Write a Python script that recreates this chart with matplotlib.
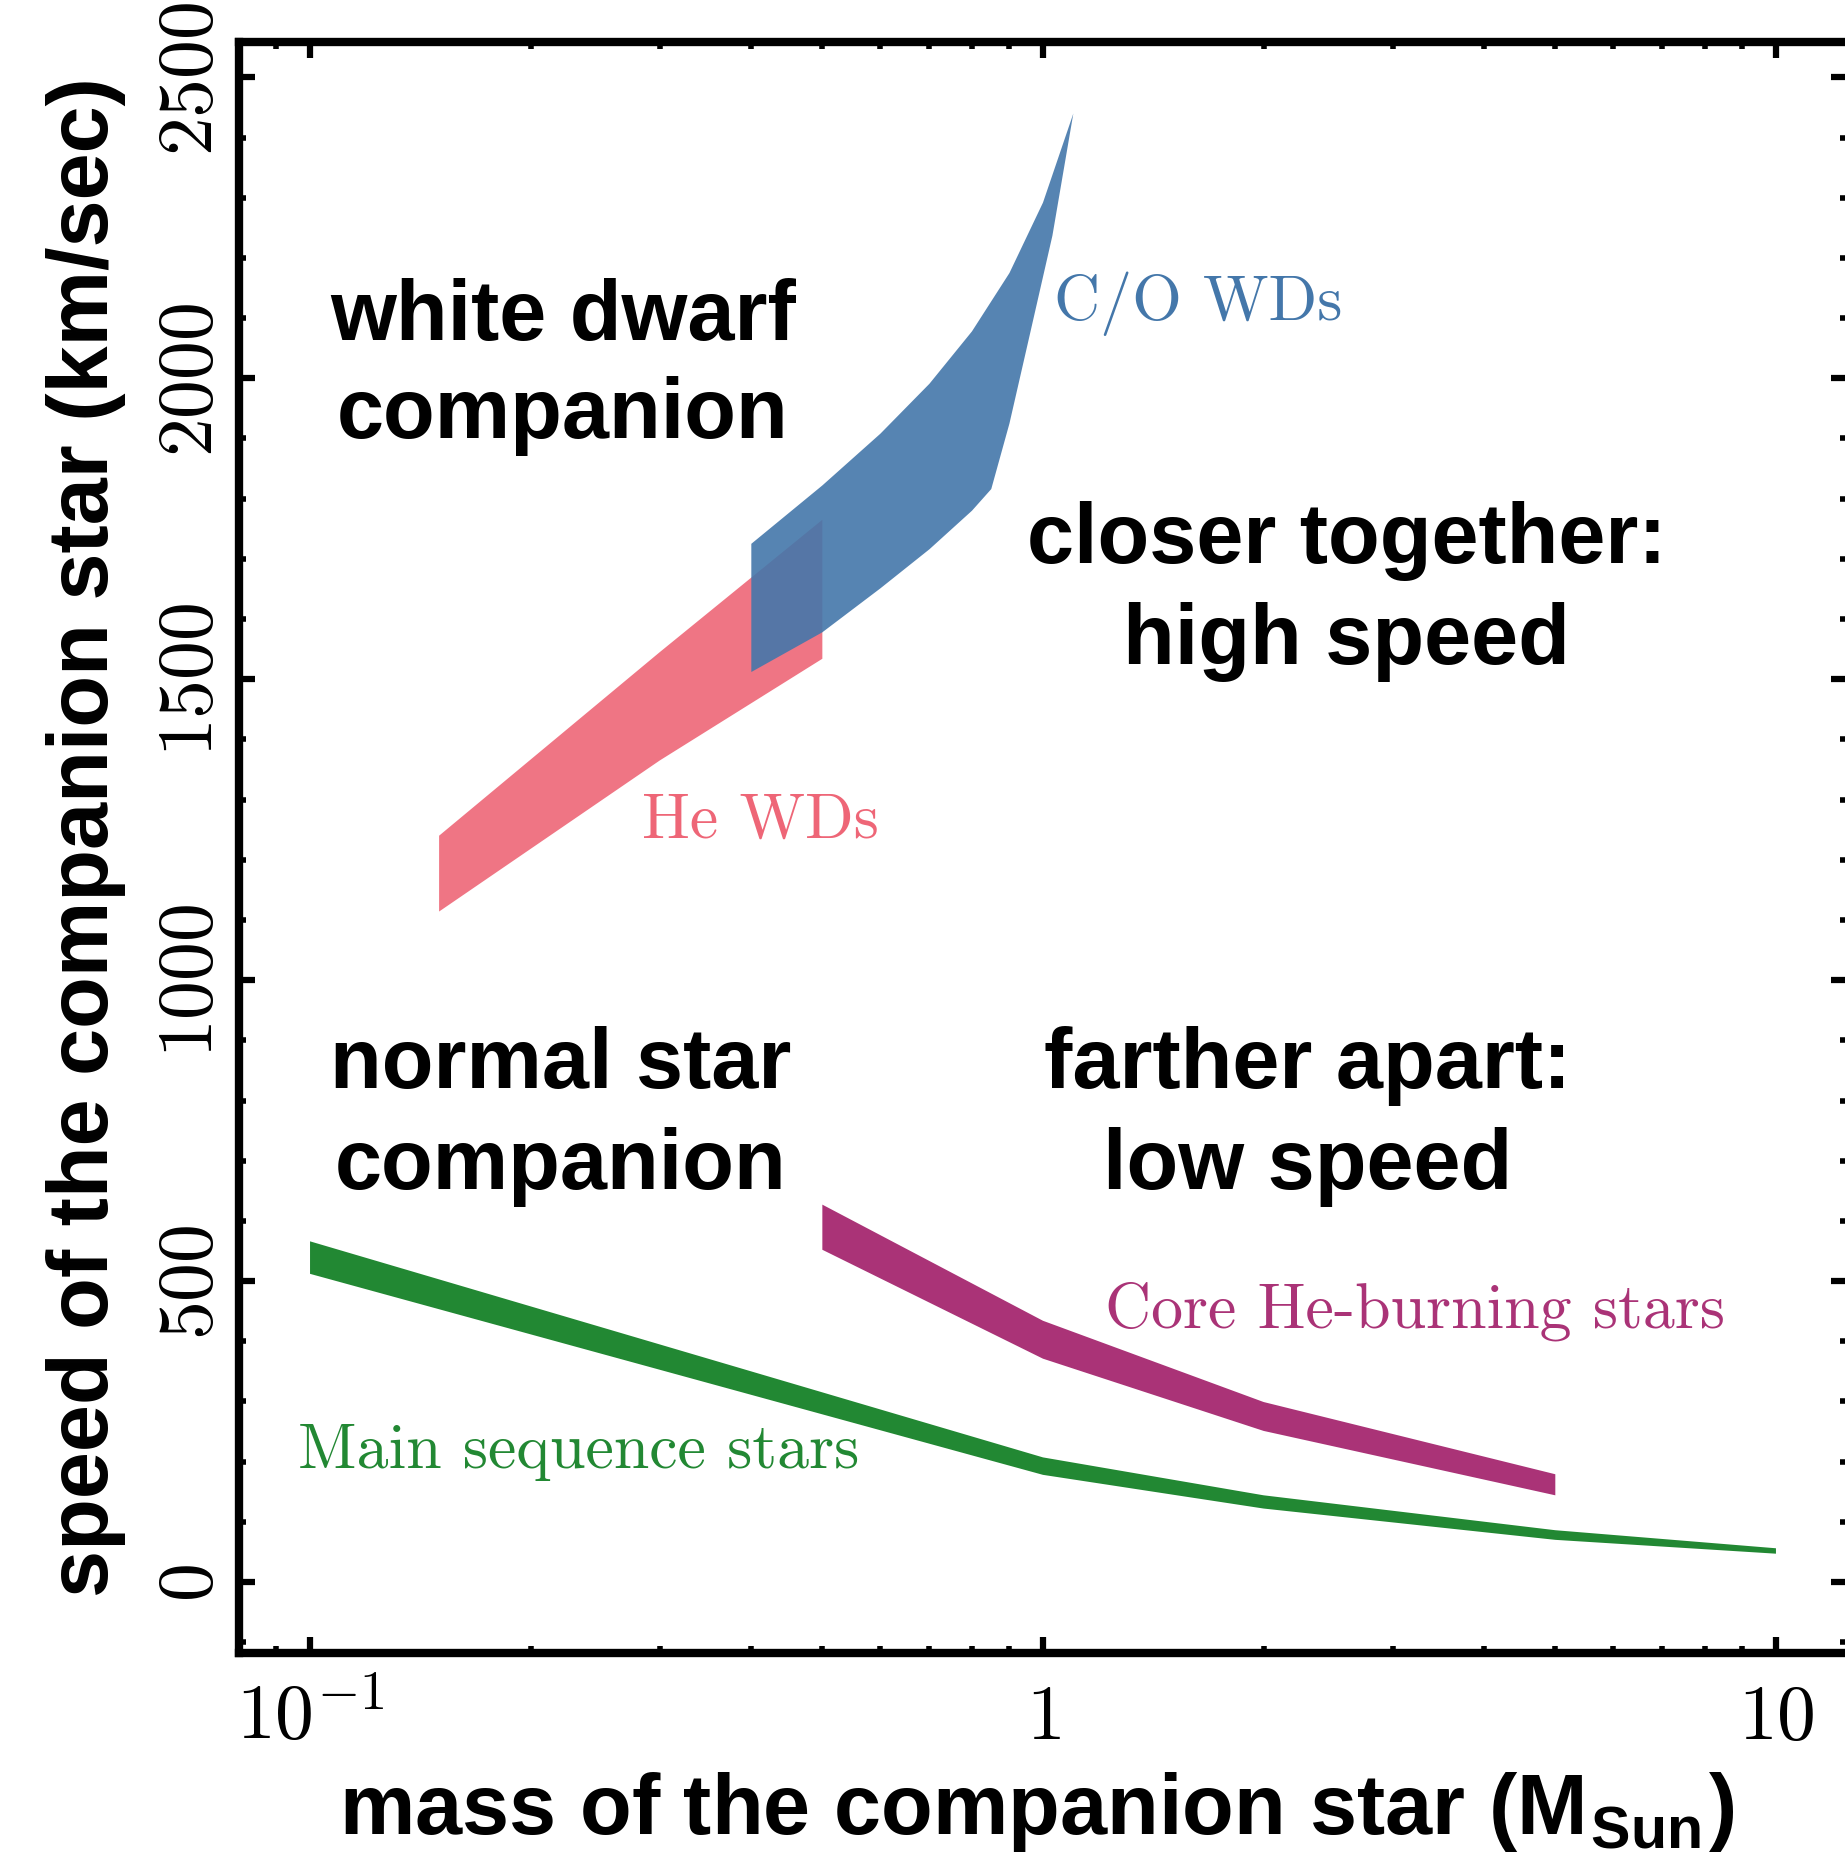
import matplotlib.pyplot as plt
from matplotlib.ticker import MultipleLocator, LogLocator, NullFormatter

plt.rcParams["mathtext.fontset"] = "cm"

# Helium white dwarf companions: speed band (km/s) vs companion mass (Msun)
he_wd_mass = [0.15, 0.3, 0.5]
he_wd_vmax = [1240, 1545, 1765]
he_wd_vmin = [1114, 1365, 1534]

# C/O white dwarf companions, upper and lower bounds sampled separately
co_wd_mass_hi = [0.4, 0.5, 0.6, 0.7, 0.8, 0.9, 1.0, 1.1]
co_wd_vmax = [1725, 1822, 1908, 1991, 2078, 2175, 2292, 2440]
co_wd_mass_lo = [0.4, 0.5, 0.6, 0.7, 0.8, 0.85, 0.9, 0.96, 1.03, 1.1]
co_wd_vmin = [1512, 1578, 1651, 1716, 1780, 1816, 1925, 2074, 2237, 2440]

# main sequence companions
ms_mass = [0.1, 1, 2, 5, 10]
ms_vmax = [566, 207, 144, 86, 56]
ms_vmin = [512, 178, 122, 70, 47]

# core helium-burning companions
heb_mass = [0.5, 1, 2, 5]
heb_vmax = [627, 434, 299, 179]
heb_vmin = [552, 371, 251, 144]

y_ticks = [0, 500, 1000, 1500, 2000, 2500]
x_ticks = [0.1, 1, 10]
x_ticklabels = [r"$10^{-1}$", r"$1$", r"$10$"]

c_red = "#EE6677"
c_blue = "#4477AA"
c_green = "#228833"
c_purple = "#AA3377"

bold = dict(family="Liberation Sans", weight="bold", size=61, ha="center", va="baseline")
serif = dict(family="cmr10", size=46, ha="left", va="baseline")


def band(ax, m_hi, v_hi, m_lo, v_lo, **kw):
    xs = list(m_hi) + list(m_lo)[::-1]
    ys = list(v_hi) + list(v_lo)[::-1]
    ax.fill(xs, ys, linewidth=0, **kw)


fig = plt.figure(figsize=(18.45, 18.58), dpi=100)
ax = fig.add_axes([0.12954, 0.10980, 0.87154, 0.86679])

band(ax, he_wd_mass, he_wd_vmax, he_wd_mass, he_wd_vmin, color=c_red, alpha=0.9)
band(ax, co_wd_mass_hi, co_wd_vmax, co_wd_mass_lo, co_wd_vmin, color=c_blue, alpha=0.9)
band(ax, ms_mass, ms_vmax, ms_mass, ms_vmin, color=c_green)
band(ax, heb_mass, heb_vmax, heb_mass, heb_vmin, color=c_purple)

ax.set_xscale("log")
ax.set_xlim(0.08, 12.5)
ax.set_ylim(-118, 2558)

ax.set_xticks(x_ticks, labels=x_ticklabels)
ax.xaxis.set_minor_locator(LogLocator(base=10, subs=range(2, 10)))
ax.xaxis.set_minor_formatter(NullFormatter())
ax.set_yticks(y_ticks, labels=[f"${t}$" for t in y_ticks])
ax.yaxis.set_minor_locator(MultipleLocator(100))

ax.tick_params(which="both", direction="in", top=True, right=True)
ax.tick_params(which="major", length=11.5, width=4.5, labelsize=56)
ax.tick_params(which="minor", length=5, width=4)
ax.tick_params(axis="x", which="major", pad=18)
ax.tick_params(axis="y", which="major", pad=8, labelrotation=90)
for lab in ax.get_yticklabels():
    lab.set_va("center")

for sp in ax.spines.values():
    sp.set_linewidth(6)

# region annotations
ax.text(0.2213, 2066, "white dwarf", **bold)
ax.text(0.2213, 1902, "companion", **bold)
ax.text(2.594, 1695, "closer together:", **bold)
ax.text(2.594, 1527, "high speed", **bold)
ax.text(0.2198, 822, "normal star", **bold)
ax.text(0.2198, 654, "companion", **bold)
ax.text(2.293, 822, "farther apart:", **bold)
ax.text(2.293, 654, "low speed", **bold)

# band labels
ax.text(1.034, 2099, "C/O WDs", color=c_blue, **serif)
ax.text(0.284, 1238, "He WDs", color=c_red, **serif)
ax.text(0.0962, 191, "Main sequence stars", color=c_green, **serif)
ax.text(1.214, 424, "Core He-burning stars", color=c_purple, **serif)

ax.set_xlabel(r"mass of the companion star (M$_{\mathregular{Sun}}$)",
              family="Liberation Sans", weight="bold", size=61)
ax.xaxis.label.set_va("baseline")
ax.xaxis.set_label_coords(0.496, -0.1115)
ax.set_ylabel("speed of the companion star (km/sec)",
              family="Liberation Sans", weight="bold", size=61)
ax.yaxis.label.set_va("center")
ax.yaxis.set_label_coords(-0.0951, 0.5073)

fig.savefig("out.png", dpi=100)
